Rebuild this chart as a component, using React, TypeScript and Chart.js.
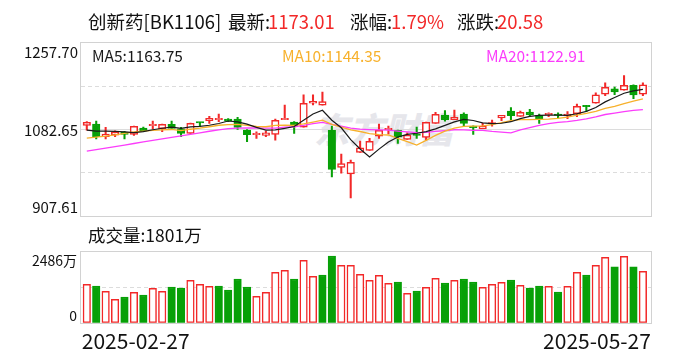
import { useEffect, useRef } from 'react';
import { Chart, registerables } from 'chart.js';

Chart.register(...registerables);

const dates = [
  '2025-02-27', '2025-02-28',
  '2025-03-03', '2025-03-04', '2025-03-05', '2025-03-06', '2025-03-07',
  '2025-03-10', '2025-03-11', '2025-03-12', '2025-03-13', '2025-03-14',
  '2025-03-17', '2025-03-18', '2025-03-19', '2025-03-20', '2025-03-21',
  '2025-03-24', '2025-03-25', '2025-03-26', '2025-03-27', '2025-03-28', '2025-03-31',
  '2025-04-01', '2025-04-02', '2025-04-03', '2025-04-07', '2025-04-08', '2025-04-09',
  '2025-04-10', '2025-04-11', '2025-04-14', '2025-04-15', '2025-04-16', '2025-04-17',
  '2025-04-18', '2025-04-21', '2025-04-22', '2025-04-23', '2025-04-24', '2025-04-25',
  '2025-04-28', '2025-04-29', '2025-04-30',
  '2025-05-06', '2025-05-07', '2025-05-08', '2025-05-09', '2025-05-12', '2025-05-13',
  '2025-05-14', '2025-05-15', '2025-05-16', '2025-05-19', '2025-05-20', '2025-05-21',
  '2025-05-22', '2025-05-23', '2025-05-26', '2025-05-27',
];

const openP = [
  1091.2, 1093.8, 1068.1, 1071.5, 1077.6, 1072.9, 1085.7, 1090.3, 1084.3, 1093.2,
  1084.3, 1075.0, 1097.2, 1100.5, 1102.5, 1103.9, 1103.9, 1081.6, 1072.1, 1070.9,
  1072.9, 1102.5, 1097.8, 1087.7, 1135.7, 1131.6, 1081.0, 1006.2, 993.2, 1036.5,
  1040.5, 1069.5, 1082.2, 1081.0, 1062.8, 1072.1, 1066.9, 1095.2, 1112.0, 1102.5,
  1114.0, 1087.7, 1084.3, 1093.8, 1105.9, 1120.1, 1109.4, 1118.1, 1111.4, 1112.6,
  1112.0, 1110.0, 1114.6, 1129.6, 1135.7, 1153.9, 1164.6, 1162.0, 1172.1, 1153.9,
];
const highP = [
  1098.8, 1099.8, 1087.1, 1080.2, 1079.0, 1089.7, 1087.7, 1099.8, 1093.8, 1099.8,
  1087.1, 1095.8, 1097.2, 1109.4, 1114.0, 1104.9, 1107.3, 1082.6, 1078.2, 1079.6,
  1103.9, 1132.2, 1098.8, 1152.5, 1152.5, 1158.5, 1089.7, 1033.1, 1020.9, 1059.4,
  1064.8, 1093.8, 1089.7, 1081.6, 1076.2, 1087.7, 1097.8, 1117.5, 1120.7, 1122.1,
  1116.6, 1090.3, 1095.2, 1101.9, 1111.4, 1126.8, 1120.1, 1123.5, 1114.0, 1116.6,
  1116.6, 1118.7, 1134.2, 1131.6, 1156.5, 1176.8, 1168.6, 1191.5, 1172.7, 1176.8,
];
const lowP = [
  1081.6, 1064.0, 1064.0, 1068.1, 1064.0, 1070.9, 1078.6, 1084.3, 1078.2, 1084.7,
  1068.1, 1074.6, 1089.7, 1095.2, 1098.4, 1098.8, 1083.1, 1058.0, 1064.8, 1068.1,
  1061.4, 1102.5, 1074.9, 1087.7, 1132.2, 1131.6, 987.1, 994.6, 944.6, 1036.5,
  1040.5, 1064.8, 1073.6, 1054.7, 1062.8, 1064.8, 1061.4, 1095.2, 1099.8, 1102.5,
  1090.3, 1072.9, 1084.3, 1089.7, 1100.5, 1101.9, 1109.4, 1110.0, 1095.2, 1108.6,
  1106.5, 1104.5, 1108.6, 1118.7, 1135.7, 1151.0, 1153.1, 1162.0, 1145.0, 1151.0,
];
const closeP = [
  1097.2, 1068.1, 1073.6, 1077.6, 1072.9, 1089.1, 1079.6, 1091.7, 1093.2, 1085.1,
  1075.0, 1095.2, 1095.8, 1105.3, 1103.3, 1099.8, 1087.1, 1072.1, 1072.9, 1076.2,
  1101.3, 1103.3, 1090.3, 1135.7, 1139.7, 1139.0, 1002.1, 1014.2, 1016.3, 1045.8,
  1058.8, 1081.0, 1085.1, 1067.5, 1071.5, 1070.9, 1097.2, 1113.4, 1101.9, 1107.3,
  1095.2, 1086.5, 1089.1, 1094.8, 1111.4, 1110.6, 1117.5, 1112.6, 1104.5, 1113.4,
  1111.0, 1114.0, 1129.6, 1128.6, 1152.5, 1168.0, 1158.5, 1172.1, 1152.43, 1173.01,
];
// close of the trading day before the first candle (sets the first volume bar's colour)
const prevCloseBefore = 1090.0;

// 成交量, 万
const volume = [
  1345, 1286, 1100, 820, 900, 1065, 970, 1205, 1100, 1251,
  1216, 1486, 1345, 1275, 1286, 1146, 1531, 1251, 925, 1065,
  1766, 1836, 1531, 2186, 1626, 1671, 2337, 2011, 2011, 1696,
  1486, 1661, 1381, 1426, 1030, 1111, 1240, 1556, 1391, 1486,
  1531, 1426, 1240, 1345, 1416, 1496, 1310, 1216, 1286, 1275,
  1076, 1275, 1766, 1671, 2011, 2292, 1952, 2327, 1952, 1801,
];

const ma5 = [
  1081.6, 1079.6, 1079.6, 1079.0, 1077.9, 1076.3, 1078.6, 1082.2, 1085.3, 1087.7,
  1084.9, 1088.0, 1088.9, 1091.3, 1094.9, 1099.9, 1098.3, 1093.5, 1087.0, 1081.6,
  1081.9, 1085.2, 1088.8, 1101.4, 1114.1, 1121.6, 1101.4, 1086.2, 1062.3, 1043.5,
  1027.4, 1043.2, 1057.4, 1067.6, 1072.8, 1075.2, 1078.4, 1084.1, 1091.0, 1098.1,
  1103.0, 1100.9, 1096.0, 1094.6, 1095.4, 1098.5, 1104.7, 1109.4, 1111.3, 1111.7,
  1111.8, 1111.1, 1114.5, 1119.3, 1127.1, 1138.5, 1147.4, 1155.9, 1160.7, 1163.75,
];
const ma10 = [
  1065.4, 1067.5, 1069.5, 1072.0, 1075.0, 1078.0, 1079.5, 1081.0, 1082.0, 1082.8,
  1080.6, 1083.3, 1085.5, 1088.3, 1091.3, 1092.4, 1093.2, 1091.2, 1089.2, 1088.3,
  1090.9, 1091.7, 1091.2, 1094.2, 1097.8, 1101.7, 1093.2, 1087.4, 1081.8, 1078.7,
  1074.5, 1072.3, 1071.7, 1064.9, 1058.1, 1051.3, 1060.8, 1070.8, 1079.3, 1085.5,
  1089.1, 1089.7, 1090.1, 1092.8, 1096.8, 1100.7, 1102.8, 1102.7, 1103.0, 1103.6,
  1105.1, 1107.9, 1111.9, 1115.3, 1119.4, 1125.2, 1129.3, 1135.2, 1140.0, 1144.35,
];
const ma20 = [
  1039.0, 1042.1, 1045.2, 1048.3, 1051.4, 1054.5, 1057.6, 1060.7, 1063.8, 1066.9,
  1070.0, 1073.0, 1076.1, 1079.2, 1082.2, 1084.5, 1085.5, 1086.0, 1085.8, 1085.5,
  1085.7, 1087.5, 1088.3, 1091.2, 1094.6, 1097.1, 1093.2, 1089.4, 1085.5, 1083.6,
  1082.7, 1082.0, 1081.5, 1079.6, 1078.0, 1076.6, 1077.1, 1079.1, 1080.6, 1082.2,
  1081.8, 1081.0, 1080.9, 1078.9, 1077.5, 1076.0, 1081.8, 1086.7, 1091.1, 1094.5,
  1097.1, 1098.8, 1101.0, 1104.1, 1108.1, 1113.0, 1116.0, 1119.0, 1121.5, 1122.91,
];

const priceTickLabels = ['1257.70', '1082.65', '907.61'];
const volumeTickLabels = ['2486万', '0'];
const volumeMax = 2486;

const RED = '#f22828';
const GREEN = '#07a007';
const MA5_COLOR = '#1a1a1a';
const MA10_COLOR = '#f7b12c';
const MA20_COLOR = '#fb3dfb';
const FONT = '"Noto Sans CJK SC", "Noto Sans", sans-serif';
const BORDER = '#d2d2d2';
const GRID = '#dcdcdc';

const idx = dates.map((_, i) => i);
const candleUp = idx.map((i) => closeP[i] >= openP[i]);
const volUp = idx.map((i) => closeP[i] >= (i === 0 ? prevCloseBefore : closeP[i - 1]));

const X_MIN = -0.615;
const X_MAX = 59.86;

function drawBorder(ctx: CanvasRenderingContext2D, a: any) {
  ctx.save();
  ctx.strokeStyle = BORDER;
  ctx.lineWidth = 1;
  ctx.setLineDash([]);
  const l = Math.round(a.left) - 0.5;
  const t = Math.round(a.top) - 0.5;
  const r = Math.round(a.right) + 0.5;
  const b = Math.round(a.bottom) + 0.5;
  ctx.strokeRect(l, t, r - l, b - t);
  ctx.restore();
}

function hLine(ctx: CanvasRenderingContext2D, a: any, py: number, dash: number[], color: string) {
  ctx.save();
  ctx.strokeStyle = color;
  ctx.lineWidth = 1;
  ctx.setLineDash(dash);
  const y = Math.round(py - 0.5) + 0.5;
  ctx.beginPath();
  ctx.moveTo(a.left, y);
  ctx.lineTo(a.right, y);
  ctx.stroke();
  ctx.restore();
}

const pricePanelPlugin = {
  id: 'pricePanel',
  beforeDatasetsDraw(chart: any) {
    const { ctx, chartArea: a } = chart;
    const y = chart.scales.y;
    const v = priceTickLabels.map(Number);
    hLine(ctx, a, y.getPixelForValue((v[0] + v[1]) / 2), [4, 3], GRID);
    hLine(ctx, a, y.getPixelForValue(v[1]), [], GRID);
    hLine(ctx, a, y.getPixelForValue((v[1] + v[2]) / 2), [4, 3], GRID);
  },
  afterDraw(chart: any) {
    const { ctx, chartArea: a } = chart;
    const y = chart.scales.y;
    drawBorder(ctx, a);
    ctx.save();
    ctx.fillStyle = '#111';
    ctx.font = `15px ${FONT}`;
    ctx.textAlign = 'right';
    ctx.textBaseline = 'middle';
    const v = priceTickLabels.map(Number);
    ctx.fillText(priceTickLabels[0], 78, y.getPixelForValue(v[0]) + 9);
    ctx.fillText(priceTickLabels[1], 78, y.getPixelForValue(v[1]) + 0.5);
    ctx.fillText(priceTickLabels[2], 78, y.getPixelForValue(v[2]) - 9);
    ctx.restore();
  },
};

const volumePanelPlugin = {
  id: 'volumePanel',
  beforeDatasetsDraw(chart: any) {
    const { ctx, chartArea: a } = chart;
    const y = chart.scales.y;
    hLine(ctx, a, y.getPixelForValue(volumeMax / 2), [4, 3], GRID);
  },
  afterDraw(chart: any) {
    const { ctx, chartArea: a } = chart;
    const y = chart.scales.y;
    const x = chart.scales.x;
    drawBorder(ctx, a);
    ctx.save();
    ctx.fillStyle = '#111';
    ctx.font = `14px ${FONT}`;
    ctx.textAlign = 'right';
    ctx.textBaseline = 'middle';
    ctx.fillText(volumeTickLabels[0], 77, y.getPixelForValue(volumeMax) + 9);
    ctx.fillText(volumeTickLabels[1], 77, y.getPixelForValue(0) - 7);
    ctx.font = `21px ${FONT}`;
    const dy = a.bottom + 18.5;
    ctx.textAlign = 'left';
    ctx.fillText(dates[0], x.getPixelForValue(0) - 5, dy);
    ctx.textAlign = 'right';
    ctx.fillText(dates[dates.length - 1], x.getPixelForValue(dates.length - 1) + 8, dy);
    ctx.restore();
  },
};

export default function App() {
  const priceRef = useRef<HTMLCanvasElement | null>(null);
  const volRef = useRef<HTMLCanvasElement | null>(null);

  useEffect(() => {
    const common: any = {
      responsive: false,
      animation: false,
      events: [],
      plugins: { legend: { display: false }, tooltip: { enabled: false } },
    };
    const lineDs = (label: string, data: number[], color: string, w: number) => ({
      type: 'line' as const,
      label,
      data: idx.map((i) => ({ x: i, y: data[i] })),
      borderColor: color,
      borderWidth: w,
      pointRadius: 0,
      tension: 0,
      fill: false,
      order: 0,
    });

    const priceChart = new Chart(priceRef.current as HTMLCanvasElement, {
      type: 'bar',
      data: {
        datasets: [
          lineDs('MA5', ma5, MA5_COLOR, 1.2),
          lineDs('MA10', ma10, MA10_COLOR, 1.3),
          lineDs('MA20', ma20, MA20_COLOR, 1.3),
          {
            type: 'bar',
            label: 'body',
            data: idx.map((i) => ({ x: i, y: [openP[i], closeP[i]] })) as any,
            backgroundColor: candleUp.map((u) => (u ? '#ffffff' : GREEN)),
            borderColor: candleUp.map((u) => (u ? RED : GREEN)),
            borderWidth: 1.5,
            borderSkipped: false,
            barThickness: 7.5,
            grouped: false,
            minBarLength: 1.5,
            order: 1,
          } as any,
          {
            type: 'bar',
            label: 'wick',
            data: idx.map((i) => ({ x: i, y: [lowP[i], highP[i]] })) as any,
            backgroundColor: candleUp.map((u) => (u ? RED : GREEN)),
            borderWidth: 0,
            barThickness: 1.4,
            grouped: false,
            minBarLength: 1,
            order: 2,
          } as any,
        ],
      },
      options: {
        ...common,
        layout: { padding: { left: 81, right: 37, top: 42.8, bottom: 13.7 } },
        scales: {
          x: { type: 'linear', min: X_MIN, max: X_MAX, offset: false, display: false },
          y: { type: 'linear', min: 907.61, max: 1257.7, display: false },
        },
      },
      plugins: [pricePanelPlugin],
    } as any);

    const volChart = new Chart(volRef.current as HTMLCanvasElement, {
      type: 'bar',
      data: {
        datasets: [
          {
            label: '成交量',
            data: idx.map((i) => ({ x: i, y: volume[i] })),
            backgroundColor: volUp.map((u) => (u ? '#ffffff' : GREEN)),
            borderColor: volUp.map((u) => (u ? RED : GREEN)),
            borderWidth: 1.5,
            borderSkipped: false,
            barThickness: 7.5,
          } as any,
        ],
      },
      options: {
        ...common,
        layout: { padding: { left: 81, right: 37, top: 21.7, bottom: 37.3 } },
        scales: {
          x: { type: 'linear', min: X_MIN, max: X_MAX, offset: false, display: false },
          y: { type: 'linear', min: 0, max: volumeMax, display: false },
        },
      },
      plugins: [volumePanelPlugin],
    } as any);

    return () => {
      priceChart.destroy();
      volChart.destroy();
    };
  }, []);

  const txt = (left: number, centerY: number, size: number, color: string, s: string, extra: any = {}) => (
    <div
      style={{
        position: 'absolute',
        left,
        top: centerY - 0.57 * size,
        fontSize: size,
        lineHeight: `${size}px`,
        color,
        fontFamily: FONT,
        whiteSpace: 'pre',
        ...extra,
      }}
    >
      {s}
    </div>
  );

  const last = dates.length - 1;
  const chg = closeP[last] - closeP[last - 1];
  const pct = (chg / closeP[last - 1]) * 100;

  return (
    <div
      style={{
        position: 'absolute',
        left: 0,
        top: 0,
        width: 688,
        height: 360,
        background: '#ffffff',
        overflow: 'hidden',
      }}
    >
      {txt(314, 130, 35, '#e6e6eb', '东方财富', { fontWeight: 900, fontStyle: 'italic' })}
      <canvas ref={priceRef} width={688} height={230} style={{ position: 'absolute', left: 0, top: 0, display: 'block' }} />
      <canvas ref={volRef} width={688} height={130} style={{ position: 'absolute', left: 0, top: 230, display: 'block' }} />
      {txt(88, 22.3, 18.5, '#111', '创新药[BK1106]')}
      {txt(228, 22.3, 18.5, '#111', '最新:')}
      {txt(268, 22.3, 18.5, RED, closeP[last].toFixed(2))}
      {txt(350, 22.3, 18.5, '#111', '涨幅:')}
      {txt(391, 22.3, 18.5, RED, `${pct.toFixed(2)}%`)}
      {txt(457, 22.3, 18.5, '#111', '涨跌:')}
      {txt(497, 22.3, 18.5, RED, chg.toFixed(2))}
      {txt(92, 57, 15.5, MA5_COLOR, `MA5:${ma5[last].toFixed(2)}`)}
      {txt(282, 57, 15.5, MA10_COLOR, `MA10:${ma10[last].toFixed(2)}`)}
      {txt(486, 57, 15.5, MA20_COLOR, `MA20:${ma20[last].toFixed(2)}`)}
      {txt(88, 236, 17.5, '#111', `成交量:${volume[last]}万`)}
    </div>
  );
}
